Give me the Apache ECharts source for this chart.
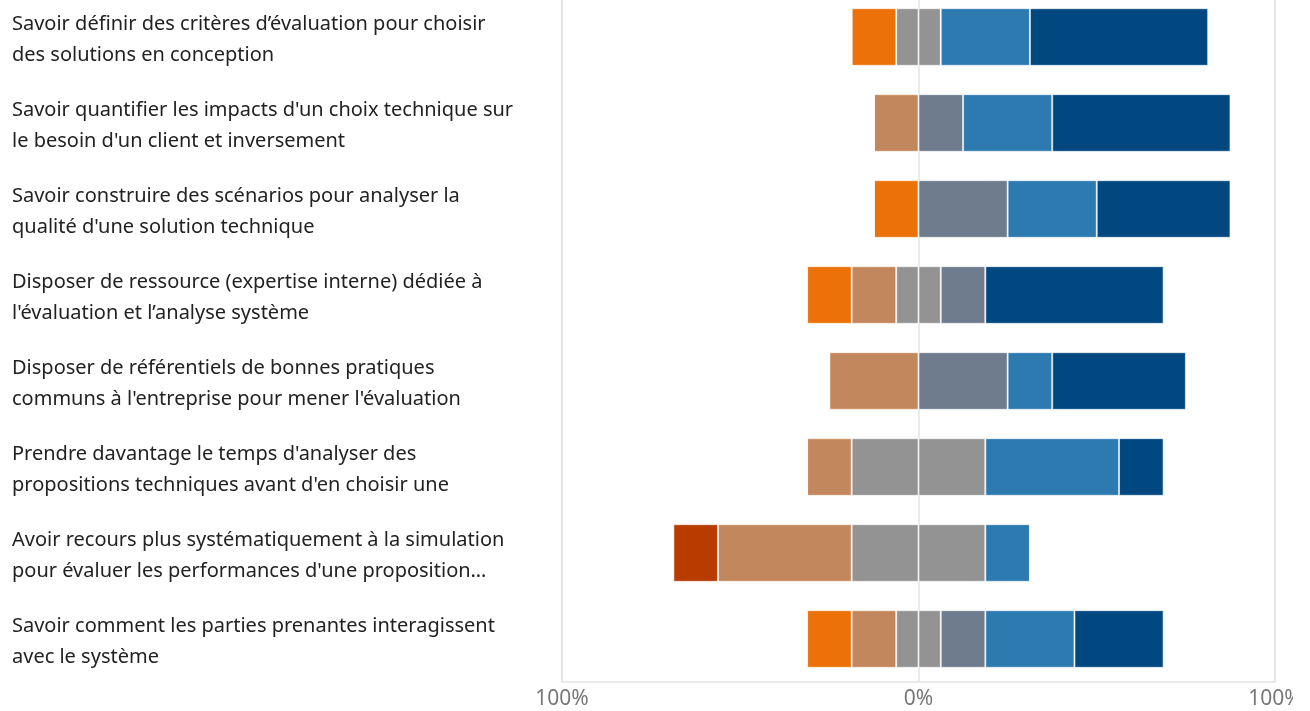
<!DOCTYPE html>
<html>
<head>
<meta charset="utf-8">
<script src="https://cdn.jsdelivr.net/npm/echarts@6/dist/echarts.min.js"></script>
<style>
html,body{margin:0;padding:0;background:#fff;}
#c{width:1293px;height:711px;}
</style>
</head>
<body>
<div id="c"></div>
<script>
const categories = [
  "Savoir définir des critères d’évaluation pour choisir\ndes solutions en conception",
  "Savoir quantifier les impacts d'un choix technique sur\nle besoin d'un client et inversement",
  "Savoir construire des scénarios pour analyser la\nqualité d'une solution technique",
  "Disposer de ressource (expertise interne) dédiée à\nl'évaluation et l’analyse système",
  "Disposer de référentiels de bonnes pratiques\ncommuns à l'entreprise pour mener l'évaluation",
  "Prendre davantage le temps d'analyser des\npropositions techniques avant d'en choisir une",
  "Avoir recours plus systématiquement à la simulation\npour évaluer les performances d'une proposition…",
  "Savoir comment les parties prenantes interagissent\navec le système"
];
// percentages (8 respondents, 12.5% each)
const darkRed  = [0, 0, 0, 0, 0, 0, 12.5, 0];
const orange   = [12.5, 0, 12.5, 12.5, 0, 0, 0, 12.5];
const tan      = [0, 12.5, 0, 12.5, 25, 12.5, 37.5, 12.5];
const neutral  = [12.5, 0, 0, 12.5, 0, 37.5, 37.5, 12.5];
const slate    = [0, 12.5, 25, 12.5, 25, 0, 0, 12.5];
const blue     = [25, 25, 25, 0, 12.5, 37.5, 12.5, 25];
const darkBlue = [50, 50, 37.5, 50, 37.5, 12.5, 0, 25];
const xTicks = [-100, 0, 100];

const neg = a => a.map(v => -v);
const half = a => a.map(v => v / 2);

function bar(name, data, color) {
  return {
    name, type: 'bar', stack: 'total', data,
    barWidth: '67%',
    itemStyle: { color, borderColor: 'rgba(255,255,255,0.55)', borderWidth: 1 },
    emphasis: { disabled: true }
  };
}

const chart = echarts.init(document.getElementById('c'), null, { renderer: 'canvas' });
chart.setOption({
  animation: false,
  grid: { left: 562, width: 713, top: -6, bottom: 29, outerBoundsMode: 'none', containLabel: false,
          show: true, borderColor: '#e4e4e4', borderWidth: 1.5 },
  xAxis: {
    type: 'value', min: -100, max: 100, interval: 100,
    axisLine: { show: false }, axisTick: { show: false },
    splitLine: { show: true, lineStyle: { color: '#e4e4e4', width: 1.5 } },
    axisLabel: {
      color: '#777', fontSize: 21, fontFamily: 'Noto Sans', margin: 7,
      formatter: v => xTicks.includes(v) ? Math.abs(v) + '%' : ''
    }
  },
  yAxis: {
    type: 'category', data: categories, inverse: true,
    axisLine: { show: false }, axisTick: { show: false }, splitLine: { show: false },
    axisLabel: {
      align: 'left', margin: 550, color: '#222', fontSize: 20, lineHeight: 31,
      fontFamily: 'Noto Sans',
      formatter: v => '{s| }\n' + v,
      rich: { s: { fontSize: 1, lineHeight: 6 } }
    }
  },
  series: [
    bar('Neutre -', neg(half(neutral)), '#939393'),
    bar('Plutôt pas d\'accord', neg(tan), '#C2875C'),
    bar('Pas d\'accord', neg(orange), '#EB7108'),
    bar('Pas du tout d\'accord', neg(darkRed), '#B83B00'),
    bar('Neutre +', half(neutral), '#939393'),
    bar('Plutôt d\'accord', slate, '#6E7C8D'),
    bar('D\'accord', blue, '#2D7AB0'),
    bar('Tout à fait d\'accord', darkBlue, '#024880')
  ]
});
</script>
</body>
</html>
